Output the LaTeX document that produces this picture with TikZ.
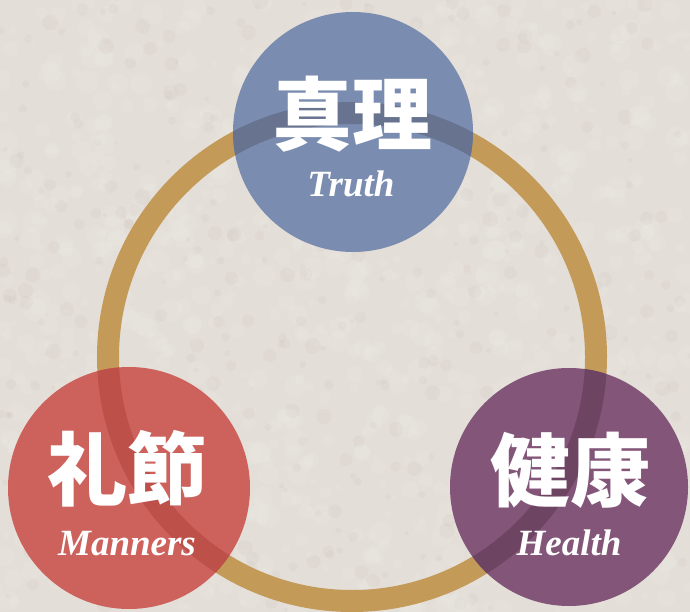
\documentclass[tikz,border=0pt]{standalone}
\usepackage{fontspec}
\newfontfamily\cjk{Noto Sans CJK JP}
\newfontfamily\serif{Liberation Serif}
\definecolor{paper}{HTML}{E4DED8}
\definecolor{gold}{HTML}{C39A57}
\definecolor{bluec}{HTML}{7A8CAF}
\definecolor{blueband}{HTML}{68738F}
\definecolor{redc}{HTML}{CD625C}
\definecolor{redband}{HTML}{BE504A}
\definecolor{purplec}{HTML}{835679}
\definecolor{purpleband}{HTML}{6E4463}
\tikzset{
  kanji/.style={text=white, font=\cjk\bfseries\fontsize{80}{80}\selectfont, anchor=base, inner sep=0pt},
  eng/.style={text=white, font=\serif\bfseries\itshape\fontsize{37}{37}\selectfont, anchor=base, inner sep=0pt},
  ringline/.style={line width=22pt},
}
\begin{document}
\begin{tikzpicture}[x=1pt,y=-1pt]
\fill[paper] (0,0) rectangle (690,612);
\useasboundingbox (0,0) rectangle (690,612);
% subtle paper texture
\pgfmathsetseed{7}
\foreach \i in {1,...,900}{
  \pgfmathsetmacro{\px}{rnd*690}
  \pgfmathsetmacro{\py}{rnd*612}
  \pgfmathsetmacro{\pr}{3+rnd*9}
  \fill[white, opacity=0.07] (\px,\py) circle[radius=\pr];
}
\foreach \i in {1,...,400}{
  \pgfmathsetmacro{\px}{rnd*690}
  \pgfmathsetmacro{\py}{rnd*612}
  \pgfmathsetmacro{\pr}{2+rnd*6}
  \fill[black!60!brown, opacity=0.025] (\px,\py) circle[radius=\pr];
}
% ring
\coordinate (rc) at (352,357);
\draw[ringline, gold] (rc) circle[radius=244];
% circles
\coordinate (tc) at (353,132);
\coordinate (lc) at (129,488);
\coordinate (pc) at (569,487);
\fill[bluec] (tc) circle[radius=120];
\fill[redc] (lc) circle[radius=121];
\fill[purplec] (pc) circle[radius=119];
\begin{scope}
  \clip (tc) circle[radius=120];
  \draw[ringline, blueband] (rc) circle[radius=244];
\end{scope}
\begin{scope}
  \clip (lc) circle[radius=121];
  \draw[ringline, redband] (rc) circle[radius=244];
\end{scope}
\begin{scope}
  \clip (pc) circle[radius=119];
  \draw[ringline, purpleband] (rc) circle[radius=244];
\end{scope}
% labels
\node[kanji] (t1) at (352,145) {真理};
\node[eng] (t2) at (351,197) {Truth};
\node[kanji] (m1) at (127,499) {礼節};
\node[eng] (m2) at (127,555) {Manners};
\node[kanji] (h1) at (570,500) {健康};
\node[eng] (h2) at (569,555) {Health};
\end{tikzpicture}
\end{document}
